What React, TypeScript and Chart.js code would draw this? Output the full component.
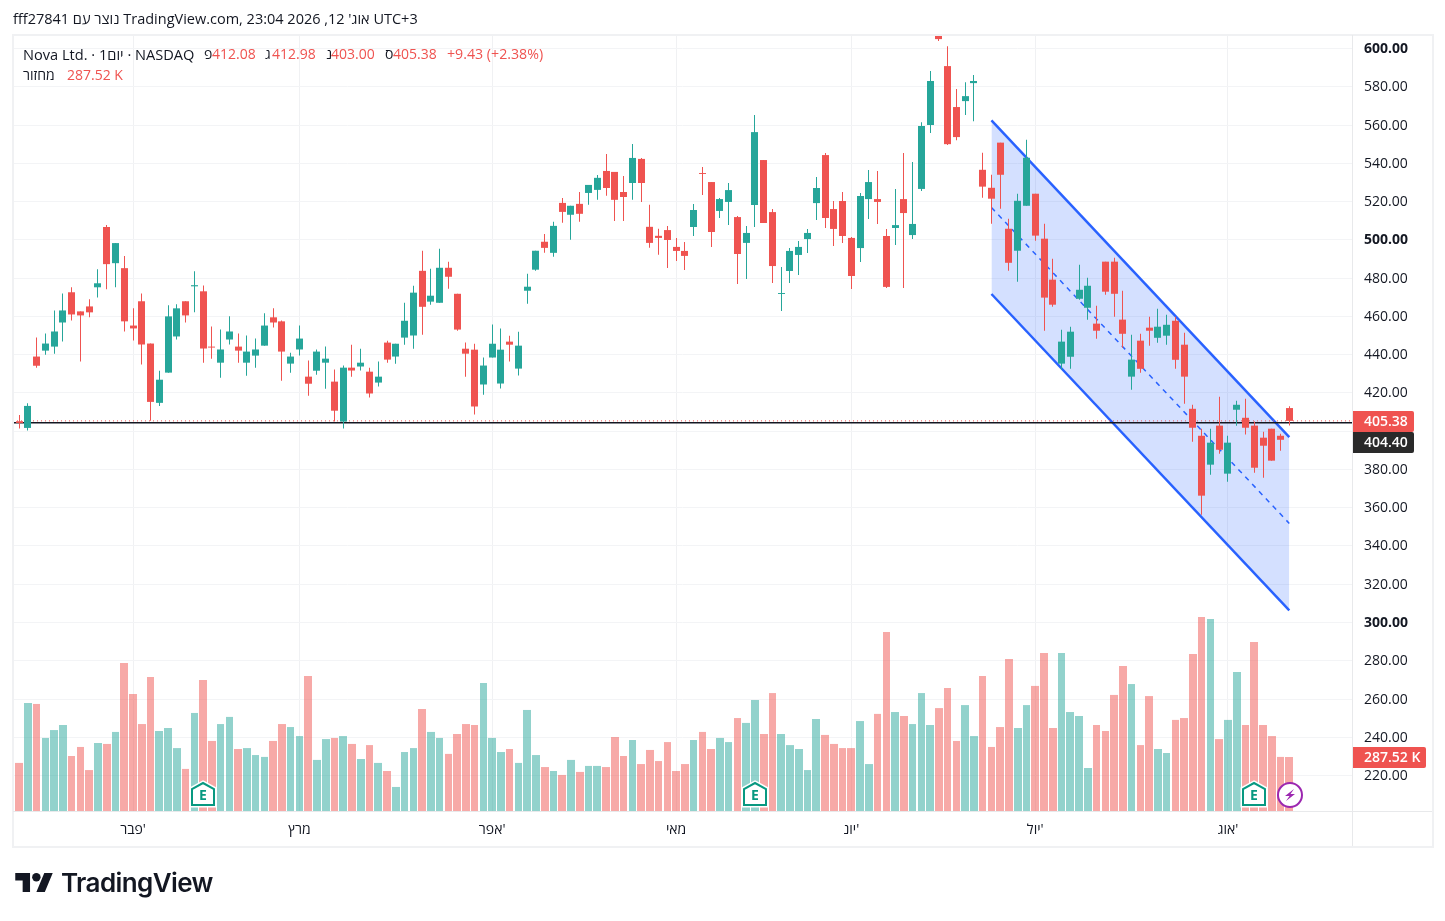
import { useEffect, useRef } from "react";
import { Chart, registerables } from "chart.js";

Chart.register(...registerables);

const FONT = '"Open Sans", "Liberation Sans", sans-serif';
const UP = "#26a69a";
const DOWN = "#ef5350";
const INK = "#131722";

const opens = [404.2, 405.2, 401.7, 439, 442.1, 444.2, 456.8, 472.6, 462.6, 465.2, 475.2, 506.7, 487.8, 485.2, 455.2, 467.9, 445.8, 414.8, 430.6, 449.5, 467.9, 475.7, 473.1, 444.2, 435.8, 447.9, 444.2, 435.8, 439.5, 444.7, 459.5, 457.4, 435.3, 442.7, 428.5, 431.6, 435.8, 425.9, 405, 433.2, 433.8, 431.1, 425.4, 446.3, 439, 448.9, 450, 483.8, 467.7, 467.1, 485.4, 471.8, 443.1, 442.6, 424.4, 438.5, 424.9, 446.8, 432.7, 473.4, 484.4, 499, 493.2, 519.3, 513.1, 518.8, 524.5, 526.1, 536, 535.5, 525, 529.7, 542.3, 506.8, 502.1, 505.1, 496.3, 494.2, 506.7, 534.9, 530.2, 515.1, 519.8, 511.9, 498.4, 518.2, 541.7, 514.5, 471.7, 483.7, 492.1, 500.4, 519.2, 544.3, 516.1, 520.3, 501, 495.7, 521.3, 521.3, 502, 506.2, 521.3, 502.5, 526.6, 560, 610, 590.8, 569.4, 572.5, 581.9, 536.6, 527.2, 550.8, 505.8, 494.3, 517.8, 524.1, 500.6, 479.2, 435.3, 438.9, 469.2, 464.5, 456.2, 488.6, 488.6, 458.3, 428.5, 447.3, 454.1, 448.8, 449.9, 457.7, 445.2, 411.7, 397.6, 382.5, 402.9, 377.8, 411.2, 407, 402.9, 396.6, 401.3, 397.6, 412.08];
const highs = [405, 408.5, 414.6, 448.9, 451.1, 463.1, 472, 475.2, 462.6, 468.9, 484.6, 507.7, 498.3, 491.5, 464.2, 472, 445.8, 431.6, 465.8, 466.3, 467.9, 483.6, 476.2, 454.7, 453.2, 460, 451, 450, 448.4, 461.6, 464.2, 457.9, 441, 455.2, 436.9, 442.7, 444.2, 432.2, 434.3, 445.2, 443.1, 433.2, 436.4, 447.3, 445.7, 467.1, 476, 494.3, 484.9, 495.3, 488.5, 471.8, 446.3, 445.7, 438.5, 455.7, 453.6, 449.9, 452, 482.3, 494.3, 503.1, 509.4, 521.9, 517.8, 525, 528.7, 533.9, 544.9, 535.5, 533.4, 550.1, 542.8, 518.3, 505.8, 507.2, 500.9, 498.9, 518.7, 538, 530.2, 521.9, 529.7, 512.5, 507.2, 565.2, 541.7, 516.1, 485.8, 495.7, 499.4, 505.7, 532.8, 545.4, 520.3, 525, 501.5, 524.5, 536.5, 536, 505.7, 526.6, 545.4, 540.7, 561.5, 588.2, 612, 601.2, 578.8, 582.4, 586.1, 545.5, 534, 550.8, 511, 524.1, 552.3, 524.1, 508.4, 490.1, 453, 454.6, 487, 480.2, 465.6, 488.6, 490.7, 473.4, 450.4, 450.9, 459.8, 464, 460.9, 459.8, 451.5, 413.8, 401.3, 401.3, 418, 397.6, 415.9, 417, 405, 399.7, 401.3, 398.7, 412.98];
const lows = [403.8, 401.4, 400.3, 433.2, 440, 440.5, 446.9, 457.9, 436.4, 459.5, 469.9, 474.2, 475.2, 452.1, 447.4, 434.8, 405.4, 413.2, 430.6, 447.9, 456.8, 462.1, 435.8, 437.9, 427.9, 445.3, 435.8, 429, 433.2, 444.7, 454.2, 426.4, 430.6, 439.5, 418.5, 429.5, 422.2, 405.1, 401.4, 428.5, 431.7, 417.6, 423.3, 435.8, 435.3, 445.2, 443.1, 450.4, 466.1, 467.1, 474.4, 452.5, 428.5, 408.7, 419.1, 438.5, 422.3, 436.4, 429.1, 466.6, 483.8, 493.2, 491.1, 508.9, 500, 509.4, 518.3, 520.9, 523, 509.9, 509.9, 520.9, 519.8, 495.8, 492.2, 485.3, 488.9, 484.2, 502, 523.4, 496.3, 511.4, 507.8, 476.9, 479.5, 506.7, 508.8, 477.5, 462.8, 477.5, 481.6, 493.1, 510.4, 506.2, 496.8, 498.3, 474.3, 488.4, 510.9, 508.3, 474.8, 497.3, 474.8, 500.4, 525.5, 555.8, 603.9, 549.5, 552.1, 565.2, 562, 522, 508.4, 516.3, 483.9, 478.1, 517.8, 499.5, 452.5, 465, 432.1, 432.6, 468.7, 458.3, 448.3, 471.3, 459.8, 443.6, 421.7, 430.6, 444.7, 446.2, 445.2, 432.6, 414.4, 394.5, 356.3, 377.2, 388.2, 373.6, 402.9, 398.2, 378.3, 375.7, 384.6, 389.8, 403];
const closes = [404.6, 404.3, 413.2, 434.2, 445.8, 452.1, 463.1, 461, 460.5, 462.1, 477.3, 487.3, 498.3, 457.4, 453.7, 445.3, 415.3, 426.9, 460, 464.2, 460.5, 476.3, 443.2, 443.7, 442.7, 452.1, 442.1, 441.6, 442.7, 455.2, 456.8, 441.6, 439, 448.4, 424.8, 441.6, 437.9, 410.7, 433.2, 431.7, 435.8, 419.7, 428.5, 437.4, 445.7, 457.7, 472.4, 465, 470.8, 485.4, 480.7, 453.1, 440.5, 412.9, 434.3, 445.7, 442.6, 445.2, 444.7, 475.5, 494.3, 495.8, 507.3, 514.6, 517.8, 513.6, 528.7, 532.4, 527.1, 520.9, 522.4, 542.8, 529.7, 498.4, 501, 499.9, 494.2, 491.6, 515.6, 534.4, 504.1, 521.3, 526, 492.6, 503.6, 556.3, 508.8, 486.3, 472.2, 494.2, 496.3, 503.6, 527.1, 511.4, 505.7, 502, 481.1, 522.9, 530.2, 519.8, 475.4, 507.7, 514, 508.3, 559.5, 583, 604.9, 550, 553.7, 575.1, 583, 527.8, 521.5, 534, 488, 520.4, 542.9, 502.2, 469.8, 466.1, 446.8, 452, 473.9, 476, 452.5, 472.9, 471.8, 450.9, 437.4, 432.6, 452.5, 454.6, 455.6, 437.3, 428.5, 401.8, 366.3, 394, 390.3, 394, 413.8, 401.8, 380.9, 392.4, 384.6, 395.5, 405.38];
// volume in thousands
const volumes = [261, 256, 575, 570, 389, 431, 458, 293, 341, 218, 362, 357, 421, 788, 623, 463, 714, 426, 442, 335, 224, 522, 698, 373, 463, 501, 330, 335, 298, 288, 373, 463, 447, 399, 719, 272, 383, 389, 399, 357, 277, 351, 256, 213, 128, 314, 335, 543, 421, 389, 304, 410, 463, 458, 682, 389, 314, 330, 256, 538, 298, 234, 213, 192, 272, 208, 240, 240, 234, 394, 293, 378, 250, 325, 266, 367, 213, 250, 378, 421, 330, 389, 367, 495, 469, 591, 410, 628, 410, 351, 330, 218, 490, 405, 357, 335, 335, 479, 250, 517, 953, 527, 506, 463, 628, 458, 548, 655, 373, 564, 399, 719, 341, 447, 809, 442, 564, 666, 841, 442, 841, 527, 506, 229, 458, 426, 618, 772, 676, 351, 612, 330, 309, 485, 495, 836, 1033, 1022, 383, 485, 740, 458, 900, 458, 399, 288, 287.52];

const priceTicks = [600, 580, 560, 540, 520, 500, 480, 460, 440, 420, 400, 380, 360, 340, 320, 300, 280, 260, 240, 220];
const boldTicks = [600, 500, 300];
const monthTicks = [14, 33, 55, 76, 96, 117, 139];
const monthLabels = ["פבר'", "מרץ", "אפר'", "מאי", "יונ'", "יול'", "אוג'"];

// regression channel anchors
const channelBars = [112, 146];
const channelUpper = [562.4, 396.9];
const channelMiddle = [516.9, 351.8];
const channelLower = [471.7, 306.3];

const lastPrice = closes[closes.length - 1];
const lastVolume = volumes[volumes.length - 1];
const prePostPrice = 404.4;

const earningsBars = [22, 85, 142];
const dividendBars = [146];

const xMin = 0.3;
const xMax = 153.16;
const barIndexes = closes.map((_, i) => i);
const isUp = (i: number) => closes[i] >= opens[i];

// TradingView keeps bars on whole pixels, Chart.js does not
const snapBars = {
  id: "snapBars",
  afterDatasetsUpdate(chart: any) {
    chart.data.datasets.forEach((ds: any, d: number) => {
      if (ds.type !== "bar") return;
      chart.getDatasetMeta(d).data.forEach((el: any) => {
        const half = ds.snapWidth / 2;
        const left = Math.round(el.x - half);
        const right = ds.yAxisID === "yVol" ? Math.round(el.x + half) : left + ds.snapWidth;
        el.x = (left + right) / 2;
        el.width = right - left;
      });
    });
  },
};

function tag(ctx: CanvasRenderingContext2D, x: number, y: number, w: number, h: number, bg: string, text: string) {
  ctx.fillStyle = bg;
  ctx.beginPath();
  ctx.roundRect(x, y, w, h, [0, 2, 2, 0]);
  ctx.fill();
  ctx.fillStyle = "#fff";
  ctx.font = `600 14px ${FONT}`;
  ctx.textAlign = "left";
  ctx.textBaseline = "middle";
  ctx.fillText(text, x + 12, y + h / 2 + 0.5);
}

const overlays = {
  id: "overlays",
  afterDatasetsDraw(chart: any) {
    const { ctx, chartArea, scales } = chart;
    const cy = chartArea.bottom - 16;
    ctx.save();
    for (const bar of earningsBars) {
      const cx = Math.round(scales.x.getPixelForValue(bar));
      ctx.beginPath();
      ctx.moveTo(cx, cy - 12);
      ctx.lineTo(cx + 11, cy - 6);
      ctx.lineTo(cx + 11, cy + 10);
      ctx.lineTo(cx - 11, cy + 10);
      ctx.lineTo(cx - 11, cy - 6);
      ctx.closePath();
      ctx.fillStyle = "#fff";
      ctx.strokeStyle = "#fff";
      ctx.lineWidth = 5;
      ctx.stroke();
      ctx.fill();
      ctx.strokeStyle = "#089981";
      ctx.lineWidth = 2;
      ctx.stroke();
      ctx.fillStyle = "#089981";
      ctx.font = `700 14px ${FONT}`;
      ctx.textAlign = "center";
      ctx.textBaseline = "middle";
      ctx.fillText("E", cx, cy + 1);
    }
    for (const bar of dividendBars) {
      const cx = Math.round(scales.x.getPixelForValue(bar)) + 1;
      ctx.beginPath();
      ctx.arc(cx, cy, 12, 0, Math.PI * 2);
      ctx.fillStyle = "#fff";
      ctx.fill();
      ctx.strokeStyle = "#9c27b0";
      ctx.lineWidth = 2;
      ctx.stroke();
      ctx.beginPath();
      ctx.moveTo(cx + 4, cy - 6);
      ctx.lineTo(cx - 5, cy + 1);
      ctx.lineTo(cx - 0.5, cy + 1);
      ctx.lineTo(cx - 4, cy + 6);
      ctx.lineTo(cx + 5, cy - 1);
      ctx.lineTo(cx + 0.5, cy - 1);
      ctx.closePath();
      ctx.fillStyle = "#9c27b0";
      ctx.fill();
    }
    ctx.restore();
  },
  afterDraw(chart: any) {
    const { ctx, chartArea, scales } = chart;
    const left = chartArea.right;
    ctx.save();
    const py = scales.y.getPixelForValue(lastPrice);
    tag(ctx, left, Math.round(py) - 10, 62, 21, DOWN, lastPrice.toFixed(2));
    tag(ctx, left, Math.round(py) + 11, 62, 21, "#2a2a2a", prePostPrice.toFixed(2));
    const vy = scales.yVol.getPixelForValue(lastVolume);
    tag(ctx, left, Math.round(vy) - 10, 74, 21, DOWN, `${lastVolume.toFixed(2)} K`);
    ctx.restore();
  },
};

const flatLine = (value: number, color: string, dash: number[], width: number) => ({
  type: "line" as const,
  data: [
    { x: xMin, y: value },
    { x: xMax, y: value },
  ],
  borderColor: color,
  borderDash: dash,
  borderWidth: width,
  pointRadius: 0,
  order: 1,
  yAxisID: "y",
});

const channelLine = (values: number[], extra: object) => ({
  type: "line" as const,
  data: channelBars.map((x, i) => ({ x, y: values[i] })),
  borderColor: "#2962ff",
  pointRadius: 0,
  order: 2,
  yAxisID: "y",
  ...extra,
});

const priceBar = (key: "body" | "wick") => ({
  type: "bar" as const,
  data: barIndexes.map((i) => ({
    x: i,
    y: key === "body" ? [opens[i], closes[i]] : [lows[i], highs[i]],
  })),
  backgroundColor: barIndexes.map((i) => (isUp(i) ? UP : DOWN)),
  grouped: false,
  barPercentage: key === "body" ? 0.8 : 0.12,
  snapWidth: key === "body" ? 7 : 1,
  inflateAmount: 0,
  order: 0,
  yAxisID: "y",
});

function Cell({ x, y, color = INK, size = 14, children }: { x: number; y: number; color?: string; size?: number; children: React.ReactNode }) {
  return (
    <div style={{ position: "absolute", left: x, top: y, color, fontSize: size, lineHeight: "20px", whiteSpace: "pre", unicodeBidi: "isolate" }}>
      {children}
    </div>
  );
}

const Rule = (s: React.CSSProperties) => <div style={{ position: "absolute", background: "#e8e9eb", ...s }} />;

export default function App() {
  const canvasRef = useRef<HTMLCanvasElement>(null);

  useEffect(() => {
    const el = canvasRef.current;
    if (!el) return;
    const chart = new Chart(el, {
      type: "bar",
      plugins: [snapBars, overlays],
      data: {
        datasets: [
          priceBar("wick"),
          priceBar("body"),
          flatLine(lastPrice, DOWN, [1, 3], 1),
          flatLine(prePostPrice, INK, [], 1.5),
          channelLine(channelUpper, { borderWidth: 2.5, fill: "+1", backgroundColor: "rgba(41,98,255,0.2)" }),
          channelLine(channelLower, { borderWidth: 2.5 }),
          channelLine(channelMiddle, { borderWidth: 1.5, borderDash: [5, 5] }),
          {
            type: "bar" as const,
            data: barIndexes.map((i) => ({ x: i, y: volumes[i] })),
            backgroundColor: barIndexes.map((i) => (isUp(i) ? "rgba(38,166,154,0.5)" : "rgba(239,83,80,0.5)")),
            grouped: false,
            barPercentage: 0.87,
            snapWidth: 7.6,
            inflateAmount: 0,
            order: 3,
            yAxisID: "yVol",
          },
        ] as any,
      },
      options: {
        responsive: false,
        animation: false,
        events: [],
        layout: { padding: { left: 13, top: 35, right: 0, bottom: 0 } },
        plugins: { legend: { display: false }, tooltip: { enabled: false } },
        scales: {
          x: {
            type: "linear",
            offset: false,
            min: xMin,
            max: xMax,
            afterFit: (s: any) => {
              s.height = 110;
            },
            afterBuildTicks: (s: any) => {
              s.ticks = monthTicks.map((value) => ({ value }));
            },
            grid: { color: "#f0f1f3", drawTicks: false, offset: false },
            border: { display: false },
            ticks: {
              autoSkip: false,
              maxRotation: 0,
              padding: 11,
              color: INK,
              font: { family: FONT, size: 14, weight: 500 },
              callback: (v: any) => monthLabels[monthTicks.indexOf(Number(v))],
            },
          },
          y: {
            position: "right",
            min: 201.5,
            max: 607.05,
            afterFit: (s: any) => {
              s.width = 93;
            },
            afterBuildTicks: (s: any) => {
              s.ticks = priceTicks.map((value) => ({ value }));
            },
            grid: { color: "#f3f4f6", drawTicks: false },
            border: { display: false },
            ticks: {
              autoSkip: false,
              padding: 12,
              labelOffset: 0.5,
              color: INK,
              font: (c: any) => ({
                family: FONT,
                size: 14,
                weight: boldTicks.includes(c.tick?.value) ? "bold" : "normal",
              }),
              callback: (v: any) => Number(v).toFixed(2),
            },
          },
          yVol: {
            display: false,
            min: 0,
            max: 4132,
          },
        },
      } as any,
    });
    return () => chart.destroy();
  }, []);

  const num = (v: number) => v.toFixed(2);
  const last = closes.length - 1;

  return (
    <div style={{ position: "absolute", left: 0, top: 0, width: 1445, height: 921, background: "#fff", overflow: "hidden", fontFamily: FONT }}>
      <canvas ref={canvasRef} width={1445} height={921} style={{ position: "absolute", left: 0, top: 0 }} />
      <div style={{ position: "absolute", left: 12, top: 34, width: 1418, height: 810, border: "2px solid #f0f1f3" }} />
      <Rule left={1352} top={35} width={1} height={811} />
      <Rule left={13} top={811} width={1419} height={1} />

      <Cell x={13} y={9} size={14.5}>{"fff27841 נוצר עם TradingView.com, 23:04 2026 ,12 'אוג UTC+3"}</Cell>

      <Cell x={23} y={44} size={14.6}>{"Nova Ltd. · 1יום · NASDAQ"}</Cell>
      <Cell x={204} y={44}>פ</Cell>
      <Cell x={212} y={44} color={DOWN}>{num(opens[last])}</Cell>
      <Cell x={265} y={44}>ג</Cell>
      <Cell x={272} y={44} color={DOWN}>{num(highs[last])}</Cell>
      <Cell x={326} y={44}>נ</Cell>
      <Cell x={331} y={44} color={DOWN}>{num(lows[last])}</Cell>
      <Cell x={385} y={44}>ס</Cell>
      <Cell x={393} y={44} color={DOWN}>{num(closes[last])}</Cell>
      <Cell x={447} y={44} size={14.2} color={DOWN}>{"+9.43 (+2.38%)"}</Cell>
      <Cell x={23} y={65}>מחזור</Cell>
      <Cell x={67} y={65} color={DOWN}>{`${num(lastVolume)} K`}</Cell>

      <svg style={{ position: "absolute", left: 15, top: 873 }} width={38} height={19} viewBox="0 4 35.5 18">
        <path d="M14 22H7V11H0V4h14v18zM28 22h-8l7.5-18h8L28 22z" fill="#131722" />
        <circle cx={20} cy={8} r={4} fill="#131722" />
      </svg>
      <div style={{ position: "absolute", left: 61, top: 866, fontFamily: "Inter, sans-serif", fontWeight: 600, fontSize: 26, lineHeight: "34px", color: "#131722", letterSpacing: -0.6 }}>
        TradingView
      </div>
    </div>
  );
}
